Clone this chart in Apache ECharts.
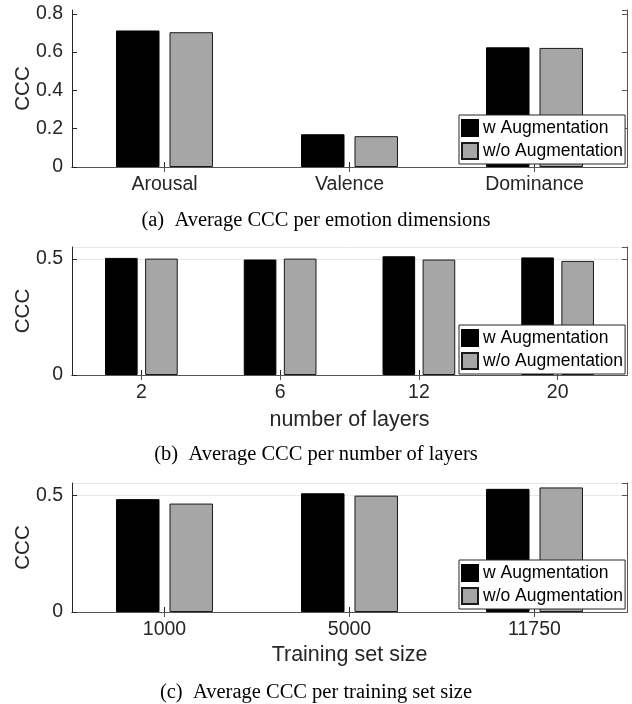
<!DOCTYPE html>
<html>
<head>
<meta charset="utf-8">
<script src="https://cdn.jsdelivr.net/npm/echarts@6/dist/echarts.min.js"></script>
<style>
html,body{margin:0;padding:0;background:#fff;}
#chart{width:632px;height:704px;}
</style>
</head>
<body>
<div id="chart"></div>
<script>
// ---- data ----
var seriesNames = ['w Augmentation', 'w/o Augmentation'];

var catsA = ['Arousal', 'Valence', 'Dominance'];
var aWith = [0.713, 0.171, 0.625];
var aWithout = [0.704, 0.161, 0.622];

var catsB = ['2', '6', '12', '20'];
var bWith = [0.505, 0.498, 0.512, 0.507];
var bWithout = [0.502, 0.502, 0.498, 0.492];

var catsC = ['1000', '5000', '11750'];
var cWith = [0.483, 0.508, 0.527];
var cWithout = [0.464, 0.498, 0.533];

var xNames = ['', 'number of layers', 'Training set size'];
var captions = [
  '(a)  Average CCC per emotion dimensions',
  '(b)  Average CCC per number of layers',
  '(c)  Average CCC per training set size'
];
var yName = 'CCC';

// ---- layout ----
var SANS = 'Liberation Sans';
var SERIF = 'Liberation Serif';
var TXT = '#262626';
var grids = [
  {left: 72, top: 10, width: 555, height: 157, containLabel: false, outerBoundsMode: 'none'},
  {left: 72, top: 247, width: 555, height: 128, containLabel: false, outerBoundsMode: 'none'},
  {left: 72, top: 483, width: 555, height: 129, containLabel: false, outerBoundsMode: 'none'}
];
var yCfg = [
  {max: 0.82, interval: 0.2, split: false},
  {max: 0.552, interval: 0.5, split: true},
  {max: 0.552, interval: 0.5, split: true}
];
var cats = [catsA, catsB, catsC];
var withData = [aWith, bWith, cWith];
var withoutData = [aWithout, bWithout, cWithout];
var legendTops = [115, 325, 560];
var captionTops = [205, 439, 677];

var xAxes = [], yAxes = [], series = [], legends = [], titles = [];
for (var i = 0; i < 3; i++) {
  xAxes.push({
    type: 'category', gridIndex: i, data: cats[i], position: 'bottom',
    name: xNames[i], nameLocation: 'middle', nameGap: i === 1 ? 34 : 32,
    nameTextStyle: {fontFamily: SANS, fontSize: 21.5, color: TXT},
    axisLine: {show: true, lineStyle: {color: TXT, width: 1}},
    axisTick: {show: true, inside: true, alignWithLabel: true, length: 5, lineStyle: {color: TXT}},
    axisLabel: {fontFamily: SANS, fontSize: 19.5, color: TXT, margin: 8},
    splitLine: {show: false}
  });
  xAxes.push({
    type: 'category', gridIndex: i, data: cats[i], position: 'top',
    axisLine: {show: true, lineStyle: {color: '#555', width: 1}},
    axisTick: {show: true, inside: true, alignWithLabel: true, length: 5, lineStyle: {color: '#555'}},
    axisLabel: {show: false}, splitLine: {show: false}
  });
  yAxes.push({
    type: 'value', gridIndex: i, min: 0, max: yCfg[i].max, interval: yCfg[i].interval,
    position: 'left',
    name: yName, nameLocation: 'middle', nameGap: 38, nameRotate: 90, nameMoveOverlap: false,
    nameTextStyle: {fontFamily: SANS, fontSize: 20.5, color: TXT},
    axisLine: {show: true, lineStyle: {color: TXT, width: 1}},
    axisTick: {show: true, inside: true, length: 5, lineStyle: {color: TXT}},
    axisLabel: {fontFamily: SANS, fontSize: 19.5, color: TXT, margin: 9, showMaxLabel: false},
    splitLine: {show: yCfg[i].split, lineStyle: {color: '#e8e8e8', width: 1}}
  });
  yAxes.push({
    type: 'value', gridIndex: i, min: 0, max: yCfg[i].max, interval: yCfg[i].interval,
    position: 'right',
    axisLine: {show: true, lineStyle: {color: '#555', width: 1}},
    axisTick: {show: true, inside: true, length: 5, lineStyle: {color: '#555'}},
    axisLabel: {show: false}, splitLine: {show: false}
  });
  series.push({
    type: 'bar', name: seriesNames[0], xAxisIndex: 2 * i, yAxisIndex: 2 * i,
    data: withData[i], barWidth: '23.5%', barGap: '23%',
    itemStyle: {color: '#000000', borderColor: '#000000', borderWidth: 1},
    emphasis: {disabled: true}
  });
  series.push({
    type: 'bar', name: seriesNames[1], xAxisIndex: 2 * i, yAxisIndex: 2 * i,
    data: withoutData[i], barWidth: '23.5%', barGap: '23%',
    itemStyle: {color: '#a6a6a6', borderColor: '#1a1a1a', borderWidth: 1},
    emphasis: {disabled: true}
  });
  legends.push({
    data: seriesNames, orient: 'vertical', left: 459, top: legendTops[i],
    itemWidth: 16, itemHeight: 16, itemGap: 5, icon: 'rect',
    padding: [4, 2, 4, 2],
    backgroundColor: '#ffffff', borderColor: '#262626', borderWidth: 1,
    textStyle: {fontFamily: SANS, fontSize: 17.5, color: '#000'},
    selectedMode: false
  });
  titles.push({
    text: captions[i], left: 'center', top: captionTops[i],
    textStyle: {fontFamily: SERIF, fontSize: 20.5, fontWeight: 'normal', color: '#000'}
  });
}

var chart = echarts.init(document.getElementById('chart'), null, {renderer: 'canvas'});
chart.setOption({
  animation: false,
  backgroundColor: '#ffffff',
  title: titles,
  legend: legends,
  grid: grids,
  xAxis: xAxes,
  yAxis: yAxes,
  series: series
});
</script>
</body>
</html>
